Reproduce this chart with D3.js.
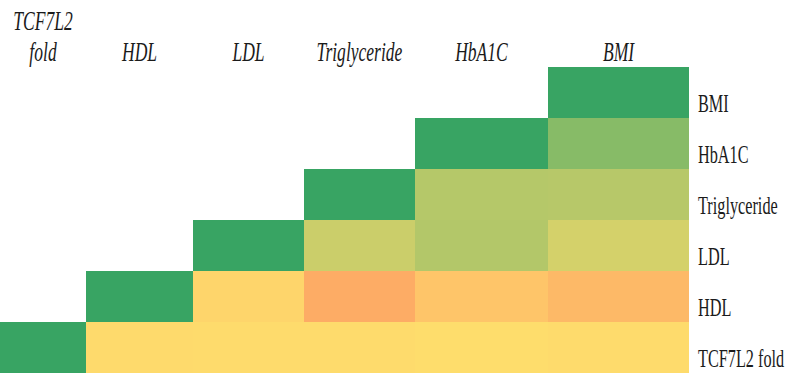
<!DOCTYPE html>
<html>
<head>
<meta charset="utf-8">
<script src="https://cdn.jsdelivr.net/npm/d3@7"></script>
<style>
  html, body { margin: 0; padding: 0; background: #ffffff; }
  svg { display: block; }
</style>
</head>
<body>
<svg id="chart" width="790" height="375"></svg>
<script>
// ---- data ----
const variables = ["TCF7L2 fold", "HDL", "LDL", "Triglyceride", "HbA1C", "BMI"];
const headerLines = [["TCF7L2", "fold"], ["HDL"], ["LDL"], ["Triglyceride"], ["HbA1C"], ["BMI"]];
// correlation of each column variable with rows (from TCF7L2 fold upward to itself)
const corrTCF7L2 = [1];
const corrHDL = [-0.02, 1];
const corrLDL = [-0.01, -0.05, 1];
const corrTriglyceride = [-0.01, -0.30, 0.26, 1];
const corrHbA1C = [0.00, -0.15, 0.38, 0.37, 1];
const corrBMI = [-0.01, -0.22, 0.21, 0.36, 0.60, 1];
const columns = [corrTCF7L2, corrHDL, corrLDL, corrTriglyceride, corrHbA1C, corrBMI];

// ---- layout ----
const colEdges = [0, 86, 193, 304, 415, 548, 689];
const gridTop = 67, gridBottom = 373;
const textSqueeze = 0.65;

const svg = d3.select("#chart");

const x = d3.scaleLinear().domain(d3.range(colEdges.length)).range(colEdges);
const rowOrder = variables.slice().reverse();
const y = d3.scaleBand().domain(rowOrder).range([gridTop, gridBottom]);
const color = d3.scaleLinear()
  .domain([-0.3, 0, 1])
  .range(["#fdac65", "#fedd6c", "#38a463"])
  .clamp(true);

const cells = [];
columns.forEach((vals, j) => {
  vals.forEach((v, i) => cells.push({ col: j, row: variables[i], value: v }));
});

svg.append("g").selectAll("rect")
  .data(cells)
  .join("rect")
  .attr("x", d => x(d.col))
  .attr("width", d => x(d.col + 1) - x(d.col))
  .attr("y", d => y(d.row))
  .attr("height", y.bandwidth())
  .attr("fill", d => color(d.value))
  .attr("shape-rendering", "crispEdges");

// column headers (italic)
const hdr = svg.append("g")
  .attr("font-family", "'Liberation Serif', 'Times New Roman', serif")
  .attr("font-style", "italic")
  .attr("font-size", 27)
  .attr("fill", "#1b1b1b");

headerLines.forEach((lines, j) => {
  const cx = (x(j) + x(j + 1)) / 2;
  lines.forEach((t, k) => {
    const by = 61 - (lines.length - 1 - k) * 31;
    hdr.append("text")
      .attr("transform", `translate(${cx},${by}) scale(${textSqueeze},1)`)
      .attr("text-anchor", "middle")
      .text(t);
  });
});

// row labels
svg.append("g")
  .attr("font-family", "'Liberation Serif', 'Times New Roman', serif")
  .attr("font-size", 25)
  .attr("fill", "#1b1b1b")
  .selectAll("text")
  .data(rowOrder)
  .join("text")
  .attr("transform", d => `translate(698,${y(d) + y.bandwidth() / 2 + 19}) scale(${textSqueeze},1)`)
  .text(d => d);
</script>
</body>
</html>
